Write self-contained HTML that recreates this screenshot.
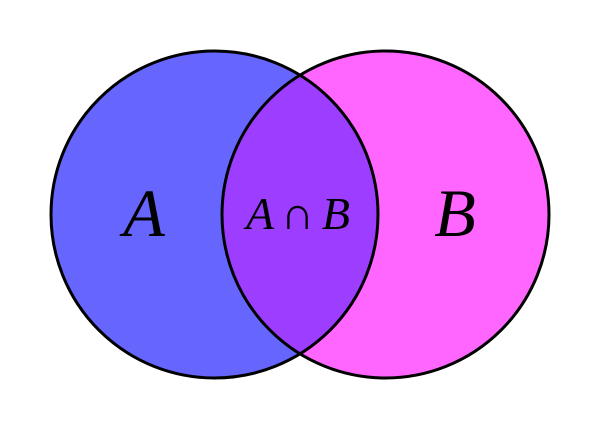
<!DOCTYPE html>
<html><head><meta charset="utf-8"><style>html,body{margin:0;padding:0;background:#fff}svg{display:block}
.t{font-family:"Liberation Serif","Times New Roman",serif;font-style:italic}</style></head>
<body>
<svg width="600" height="429" viewBox="0 0 600 429" xmlns="http://www.w3.org/2000/svg">
<defs><clipPath id="c"><circle cx="214.5" cy="214.5" r="163.5"/></clipPath></defs>
<circle cx="214.5" cy="214.5" r="163.5" fill="#6666ff"/>
<circle cx="385.5" cy="214.5" r="163.5" fill="#ff66ff"/>
<circle cx="385.5" cy="214.5" r="163.5" fill="#9d3dff" clip-path="url(#c)"/>
<circle cx="214.5" cy="214.5" r="163.5" fill="none" stroke="#000" stroke-width="3"/>
<circle cx="385.5" cy="214.5" r="163.5" fill="none" stroke="#000" stroke-width="3"/>
<g class="t" fill="#000">
<text x="144" y="236" font-size="68" text-anchor="middle">A</text>
<text x="455" y="236" font-size="68" text-anchor="middle">B</text>
<text x="246" y="229" font-size="46" textLength="104" lengthAdjust="spacing">A <tspan style="font-style:normal">∩</tspan> B</text>
</g>
</svg>
</body></html>
